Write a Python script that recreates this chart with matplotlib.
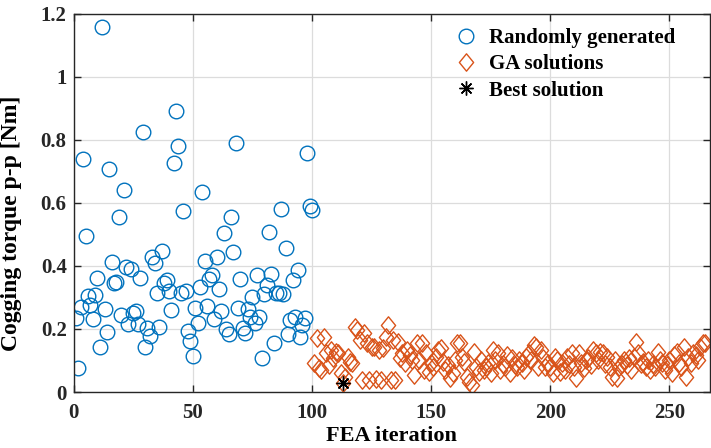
import matplotlib
matplotlib.use("Agg")
import matplotlib.pyplot as plt
from matplotlib.path import Path
from matplotlib.ticker import FuncFormatter

# Randomly generated designs (FEA iterations 1-100)
random_vals = [
    0.236, 0.077, 0.269, 0.739, 0.496, 0.306, 0.275, 0.231, 0.309, 0.361,
    0.144, 1.158, 0.263, 0.191, 0.707, 0.412, 0.347, 0.350, 0.555, 0.243,
    0.642, 0.398, 0.217, 0.389, 0.252, 0.256, 0.216, 0.363, 0.824, 0.144,
    0.204, 0.178, 0.428, 0.410, 0.315, 0.207, 0.449, 0.345, 0.356, 0.320,
    0.260, 0.727, 0.891, 0.781, 0.315, 0.575, 0.322, 0.195, 0.162, 0.114,
    0.266, 0.220, 0.334, 0.634, 0.416, 0.273, 0.359, 0.371, 0.232, 0.430,
    0.327, 0.257, 0.506, 0.199, 0.184, 0.555, 0.444, 0.789, 0.268, 0.358,
    0.202, 0.188, 0.262, 0.239, 0.303, 0.218, 0.371, 0.239, 0.107, 0.311,
    0.339, 0.509, 0.375, 0.155, 0.313, 0.313, 0.580, 0.310, 0.458, 0.184,
    0.229, 0.356, 0.237, 0.387, 0.176, 0.213, 0.234, 0.758, 0.591, 0.578,
]

# GA solutions (FEA iterations 101-265)
ga_vals = [
    0.091, 0.170, 0.075, 0.070, 0.176, 0.123, 0.085, 0.133, 0.107, 0.128,
    0.123, 0.060, 0.030, 0.049, 0.112, 0.096, 0.091, 0.207, 0.197, 0.165,
    0.038, 0.186, 0.155, 0.038, 0.144, 0.144, 0.040, 0.133, 0.038, 0.139,
    0.176, 0.213, 0.038, 0.165, 0.038, 0.160, 0.107, 0.123, 0.091, 0.133,
    0.117, 0.100, 0.054, 0.155, 0.102, 0.155, 0.070, 0.123, 0.064, 0.091,
    0.080, 0.110, 0.133, 0.139, 0.096, 0.070, 0.085, 0.043, 0.059, 0.100,
    0.155, 0.155, 0.112, 0.096, 0.049, 0.033, 0.022, 0.128, 0.080, 0.064,
    0.100, 0.070, 0.080, 0.091, 0.060, 0.133, 0.100, 0.123, 0.070, 0.090,
    0.080, 0.117, 0.060, 0.107, 0.086, 0.080, 0.100, 0.091, 0.070, 0.112,
    0.123, 0.100, 0.149, 0.144, 0.080, 0.133, 0.107, 0.080, 0.091, 0.080,
    0.060, 0.112, 0.102, 0.064, 0.091, 0.070, 0.112, 0.090, 0.123, 0.080,
    0.043, 0.123, 0.091, 0.075, 0.100, 0.107, 0.085, 0.133, 0.123, 0.100,
    0.128, 0.123, 0.090, 0.112, 0.080, 0.049, 0.100, 0.043, 0.080, 0.090,
    0.102, 0.086, 0.107, 0.070, 0.112, 0.160, 0.123, 0.090, 0.096, 0.080,
    0.100, 0.070, 0.090, 0.080, 0.128, 0.100, 0.091, 0.070, 0.085, 0.102,
    0.060, 0.117, 0.128, 0.091, 0.080, 0.144, 0.049, 0.110, 0.091, 0.123,
    0.117, 0.100, 0.144, 0.155, 0.155,
]

best_iter = 113
best_val = 0.03

random_iters = list(range(1, len(random_vals) + 1))
ga_iters = list(range(len(random_vals) + 1, len(random_vals) + len(ga_vals) + 1))

plt.rcParams['font.family'] = ['Liberation Serif', 'DejaVu Serif']
plt.rcParams['font.weight'] = 'bold'

blue = '#0072BD'
orange = '#D95319'

# MATLAB-like diamond (taller than wide)
diamond = Path([(0, 1), (0.82, 0), (0, -1), (-0.82, 0), (0, 1)],
               [Path.MOVETO, Path.LINETO, Path.LINETO, Path.LINETO, Path.CLOSEPOLY])

fig = plt.figure(figsize=(7.11, 4.48), dpi=100)
ax = fig.add_axes([0.1035, 0.125, 0.895, 0.8438])

ax.plot(random_iters, random_vals, linestyle='none', marker='o', markersize=10.5,
        markerfacecolor='none', markeredgecolor=blue, markeredgewidth=1.0,
        label='Randomly generated')
ax.plot(ga_iters, ga_vals, linestyle='none', marker=diamond, markersize=12.5,
        markerfacecolor='none', markeredgecolor=orange, markeredgewidth=1.0,
        label='GA solutions')
ax.plot([best_iter], [best_val], linestyle='none', marker=(8, 2, 0), markersize=10,
        color='black', markeredgewidth=1.0, label='Best solution')

ax.set_xlim(0, 267)
ax.set_ylim(0, 1.2)
ax.set_xticks([0, 50, 100, 150, 200, 250])
ax.set_yticks([0, 0.2, 0.4, 0.6, 0.8, 1.0, 1.2])
ax.yaxis.set_major_formatter(FuncFormatter(lambda v, p: f'{v:g}'))

ax.grid(True, color='#dcdcdc', linewidth=0.9)
ax.set_axisbelow(True)
ax.tick_params(direction='in', top=True, right=True, length=5, width=1.0,
               colors='#262626', labelsize=15, pad=5)
ax.tick_params(axis='x', pad=8)
for lbl in ax.get_xticklabels() + ax.get_yticklabels():
    lbl.set_fontweight('bold')
for s in ax.spines.values():
    s.set_color('#262626')
    s.set_linewidth(1.0)

ax.set_xlabel('FEA iteration', fontsize=16, fontweight='bold', labelpad=2)
ax.set_ylabel('Cogging torque p-p [Nm]', fontsize=17, fontweight='bold')
ax.yaxis.set_label_coords(-0.081, 0.445)

leg = ax.legend(loc='upper right', bbox_to_anchor=(0.975, 1.012), frameon=False,
                prop={'size': 15, 'weight': 'bold'}, handletextpad=0.5,
                labelspacing=0.3, handlelength=1.2)

fig.savefig('out.png', dpi=100)
